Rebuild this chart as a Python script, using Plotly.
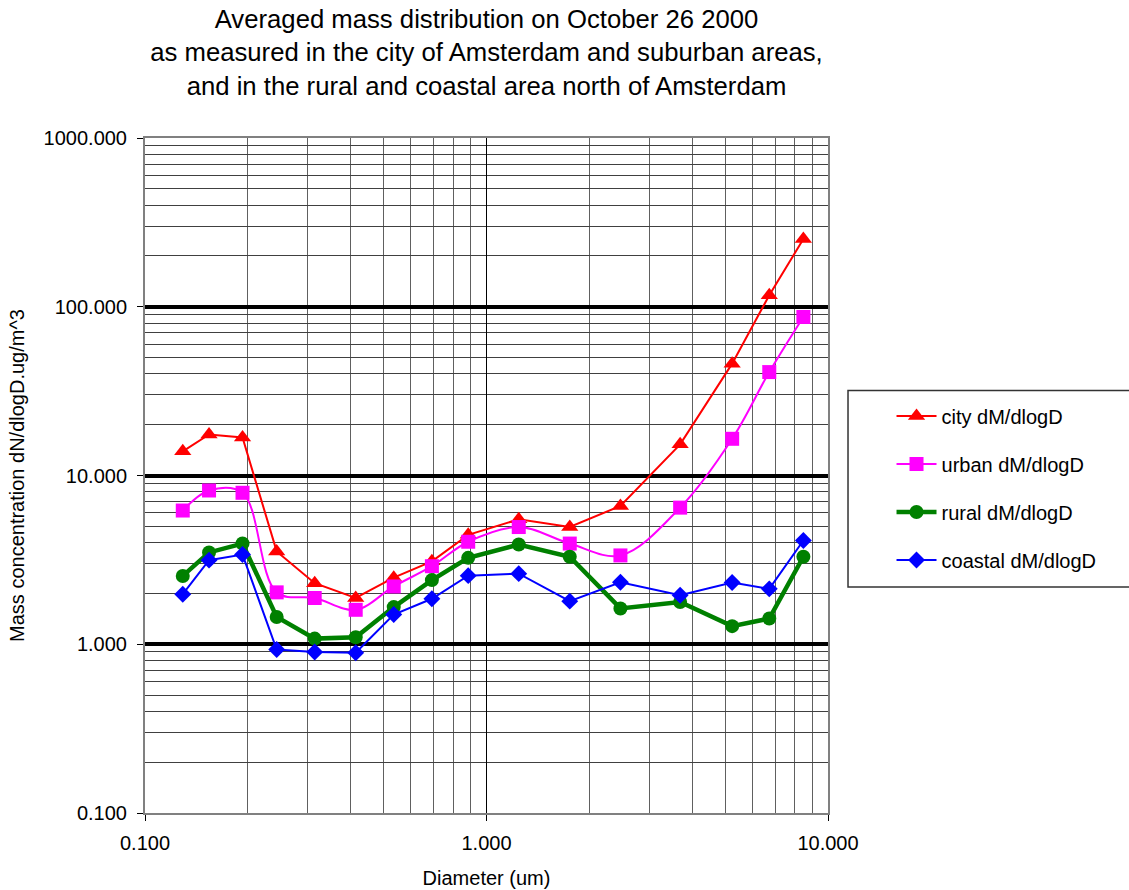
import plotly.graph_objects as go

# Particle diameters (um) of the impactor stages
diameter = [0.129, 0.154, 0.193, 0.243, 0.314, 0.414, 0.535, 0.692, 0.884,
            1.243, 1.753, 2.467, 3.69, 5.24, 6.73, 8.47]

# dM/dlogD mass concentrations per site
city = [13.9, 17.5, 16.8, 3.55, 2.3, 1.88, 2.48, 3.1, 4.45,
        5.5, 4.95, 6.6, 15.3, 46.0, 117.0, 252.0]
urban = [6.2, 8.15, 7.9, 2.03, 1.88, 1.6, 2.2, 2.9, 4.05,
         4.95, 3.95, 3.36, 6.45, 16.5, 41.0, 87.0]
rural = [2.54, 3.5, 3.95, 1.45, 1.08, 1.1, 1.66, 2.4, 3.25,
         3.9, 3.3, 1.63, 1.78, 1.28, 1.42, 3.3]
coastal = [1.98, 3.15, 3.4, 0.93, 0.9, 0.89, 1.5, 1.86, 2.55,
           2.62, 1.8, 2.33, 1.95, 2.32, 2.13, 4.12]

x_ticks = [0.1, 1, 10]
y_ticks = [0.1, 1, 10, 100, 1000]

FONT = "Arial, Liberation Sans, sans-serif"

fig = go.Figure()

series = [
    ("city dM/dlogD", city, "#FF0000", 2, "triangle-up", 15, "linear"),
    ("urban dM/dlogD", urban, "#FF00FF", 2, "square", 14, "spline"),
    ("rural dM/dlogD", rural, "#008000", 4.5, "circle", 14, "linear"),
    ("coastal dM/dlogD", coastal, "#0000FF", 2, "diamond", 13, "linear"),
]

for name, vals, color, lw, sym, ms, shape in series:
    fig.add_trace(go.Scatter(
        x=diameter, y=vals, name=name, legendgroup=name,
        mode="lines+markers",
        line=dict(color=color, width=lw, shape=shape),
        marker=dict(symbol=sym, size=ms, color=color, line=dict(width=0)),
    ))

# legend frame
fig.add_shape(type="rect", xref="paper", yref="paper",
              x0=1.0293, x1=1.45, y0=0.3347, y1=0.626,
              line=dict(color="#333333", width=1.5), fillcolor="white",
              layer="below")

fig.update_layout(
    width=1129, height=890,
    margin=dict(l=145, r=301, t=138, b=77, autoexpand=False),
    paper_bgcolor="white", plot_bgcolor="white",
    font=dict(family=FONT, color="black", size=20),
    title=dict(
        text="Averaged mass distribution on October 26 2000<br>"
             "as measured in the city of Amsterdam and suburban areas,<br>"
             "and in the rural and coastal area north of Amsterdam",
        x=(145 + 828) / 2 / 1129, xanchor="center",
        y=1 - 28 / 890, yanchor="top",
        font=dict(size=25.7, family=FONT, color="black"),
    ),
    showlegend=True,
    legend=dict(
        x=1.093, xanchor="left", y=0.617, yanchor="top",
        bgcolor="rgba(0,0,0,0)", borderwidth=0,
        font=dict(size=20, family=FONT, color="black"),
        tracegroupgap=19, itemwidth=40,
    ),
    xaxis=dict(
        type="log", range=[-1, 1], automargin=False,
        tickvals=x_ticks, tickformat=".3f",
        ticks="outside", ticklen=6, tickcolor="black", tickwidth=1,
        showline=True, linecolor="#808080", linewidth=2, mirror=True,
        showgrid=True, gridcolor="black", gridwidth=1,
        minor=dict(dtick="D1", showgrid=True, gridcolor="#606060",
                   gridwidth=1, ticks=""),
        tickfont=dict(size=20),
        ticklabelstandoff=5,
        title=dict(text="Diameter (um)", font=dict(size=20), standoff=18),
        zeroline=False,
    ),
    yaxis=dict(
        type="log", range=[-1, 3], automargin=False,
        tickvals=y_ticks, tickformat=".3f",
        ticks="outside", ticklen=6, tickcolor="black", tickwidth=1,
        showline=True, linecolor="#808080", linewidth=2, mirror=True,
        showgrid=True, gridcolor="black", gridwidth=3.5,
        minor=dict(dtick="D1", showgrid=True, gridcolor="#404040",
                   gridwidth=1, ticks=""),
        tickfont=dict(size=20),
        ticklabelstandoff=6,
        title=dict(text="Mass concentration dN/dlogD.ug/m^3",
                   font=dict(size=20), standoff=14),
        zeroline=False,
    ),
)

fig.write_html("out.html")
